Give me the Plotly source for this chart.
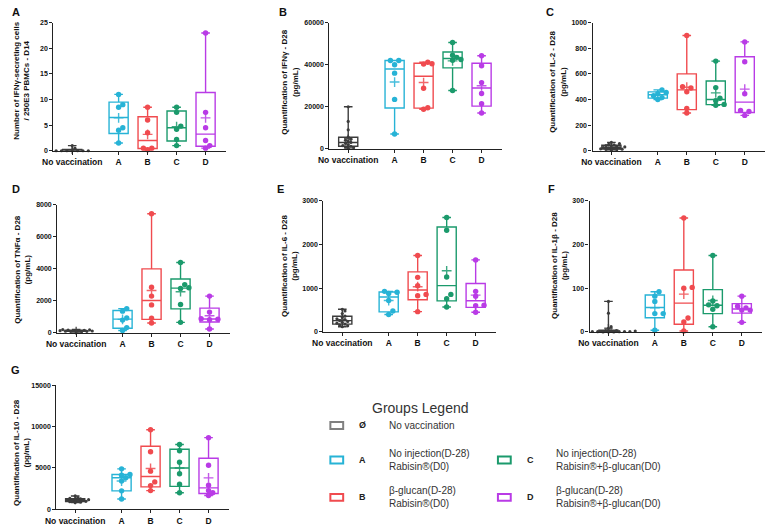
import numpy as np
import plotly.graph_objects as go

# ---------------- data ----------------
groups = ["No vaccination", "A", "B", "C", "D"]
group_pos = [0, 1.6, 2.6, 3.6, 4.6]
group_colors = ["#3c3c3c", "#27b3d6", "#f04b4f", "#1b9a6c", "#b93be6"]
legend_colors = ["#808080", "#27b3d6", "#f04b4f", "#1b9a6c", "#b93be6"]

# A: IFNg-secreting cells / 250E3 PBMCs - D14
ifng_spots_d14 = [
    [0, 0, 0, 0, 0, 0, 0, 0.5, 1],
    [1.5, 4, 4.5, 8.5, 9, 11],
    [0.2, 0.5, 0.5, 3.5, 6, 8.5],
    [1, 2.2, 4.2, 4.8, 7.5, 8.5],
    [0.5, 1, 2, 4.5, 7.5, 23],
]
# B: IFNg D28 (pg/mL)
ifng_d28 = [
    [300, 500, 800, 1200, 1500, 2000, 2500, 3000, 3500, 4000, 4500, 5500, 9000, 13000, 20000],
    [7000, 23500, 36000, 40000, 42000, 42000],
    [18800, 19500, 28800, 40300, 40500, 41200],
    [27700, 42100, 42500, 43500, 44500, 50600],
    [17000, 21400, 26300, 31500, 39500, 44300],
]
# C: IL-2 D28
il2_d28 = [
    [5, 8, 10, 12, 15, 18, 20, 22, 25, 28, 30, 35, 40, 45, 50, 55, 65],
    [400, 415, 430, 445, 455, 475],
    [295, 330, 460, 490, 500, 900],
    [355, 362, 390, 410, 493, 700],
    [276, 306, 315, 445, 695, 850],
]
# D: TNFa D28
tnfa_d28 = [
    [50, 70, 90, 100, 110, 120, 130, 140, 150, 160, 170, 190, 210],
    [150, 334, 800, 930, 1360, 1520],
    [620, 919, 1750, 2300, 2850, 7450],
    [660, 1780, 2780, 2820, 3020, 4400],
    [247, 825, 850, 890, 1300, 2300],
]
# E: IL-6 D28
il6_d28 = [
    [120, 140, 160, 180, 200, 220, 240, 260, 280, 300, 330, 360, 420, 480, 520],
    [400, 480, 720, 880, 910, 930],
    [465, 830, 860, 1060, 1250, 1750],
    [570, 760, 860, 1260, 2330, 2620],
    [450, 600, 610, 820, 930, 1650],
]
# F: IL-1b D28
il1b_d28 = [
    [0, 0, 0, 0.5, 0.5, 1, 1, 1, 1.5, 2, 2, 2.5, 3, 3, 8, 12, 43, 70],
    [4, 42, 42, 70, 82, 92],
    [2, 23, 32, 100, 102, 261],
    [12, 52, 60, 62, 71, 175],
    [22, 50, 50, 55, 59, 82],
]
# G: IL-10 D28
il10_d28 = [
    [800, 850, 900, 950, 1000, 1050, 1100, 1100, 1150, 1200, 1250, 1300, 1400, 1600],
    [1230, 2220, 3400, 3800, 4100, 4200, 4880],
    [2250, 2850, 3300, 4600, 6940, 9600],
    [1980, 3020, 4290, 5670, 7060, 7820],
    [1650, 1980, 2250, 2900, 5320, 8650],
]

y_ticks = {
    "A": [0, 5, 10, 15, 20, 25],
    "B": [0, 20000, 40000, 60000],
    "C": [0, 200, 400, 600, 800, 1000],
    "D": [0, 2000, 4000, 6000, 8000],
    "E": [0, 1000, 2000, 3000],
    "F": [0, 100, 200, 300],
    "G": [0, 5000, 10000, 15000],
}
y_titles = {
    "A": "Number of IFNγ-secreting cells<br>/ 250E3 PBMCs - D14",
    "B": "Quantification of IFNγ - D28<br>(pg/mL)",
    "C": "Quantification of IL-2 - D28<br>(pg/mL)",
    "D": "Quantification of TNFα - D28<br>(pg/mL)",
    "E": "Quantification of IL-6 - D28<br>(pg/mL)",
    "F": "Quantification of IL-1β - D28<br>(pg/mL)",
    "G": "Quantification of IL-10 - D28<br>(pg/mL)",
}
panel_data = {"A": ifng_spots_d14, "B": ifng_d28, "C": il2_d28, "D": tnfa_d28,
              "E": il6_d28, "F": il1b_d28, "G": il10_d28}

# ---------------- layout geometry (pixels) ----------------
W, H = 768, 526
# panel: (axis left px, top px, zero px, title x px, title y px, letter x, letter y)
geom = {
    "A": (43, 19, 149, 11, 78, 5, 8),
    "B": (323, 19, 147, 283, 79, 276, 8),
    "C": (590, 19, 149, 555, 79, 547, 8),
    "D": (47, 204, 334, 12, 269, 5, 188),
    "E": (317, 200, 333, 283, 266, 273, 188),
    "F": (587, 200, 333, 557, 266, 548, 188),
    "G": (46, 387, 513, 10, 455, 5, 372),
}
PLOT_W = 175
XR = [-0.65, 5.3]
PX_PER_X = PLOT_W / (XR[1] - XR[0])
FONT = "Liberation Sans, Arial, sans-serif"


def swarm_offsets(vals, ymax, hpx, diam):
    ys = np.asarray(vals, float) / ymax * hpx
    order = np.argsort(ys, kind="stable")
    placed = []
    offs = np.zeros(len(ys))
    step = diam * 0.85
    for i in order:
        found = None
        for k in range(0, 30):
            for c in ([0] if k == 0 else [k, -k]):
                xx = c * step
                if all((xx - px) ** 2 + (ys[i] - py) ** 2 >= (diam * 0.9) ** 2 for px, py in placed):
                    found = xx
                    break
            if found is not None:
                break
        placed.append((found, ys[i]))
        offs[i] = found
    return offs / PX_PER_X


fig = go.Figure()
annotations = []
layout_axes = {}

for idx, (key, data) in enumerate(panel_data.items()):
    n = idx + 1
    xa = "x" if n == 1 else f"x{n}"
    ya = "y" if n == 1 else f"y{n}"
    left, top, zero, tx, ty, lx, ly = geom[key]
    ymax = y_ticks[key][-1]
    hpx = zero - top
    for gi, vals in enumerate(data):
        v = np.asarray(vals, float)
        q1, med, q3 = np.percentile(v, [25, 50, 75], method="weibull")
        col = group_colors[gi]
        pos = group_pos[gi]
        fig.add_trace(go.Box(
            x=[pos], q1=[q1], median=[med], q3=[q3],
            lowerfence=[v.min()], upperfence=[v.max()],
            width=0.66, whiskerwidth=0.45,
            line=dict(color=col, width=1.4),
            fillcolor="rgba(255,255,255,0)",
            boxpoints=False, hoverinfo="skip",
            xaxis=xa, yaxis=ya,
        ))
        diam = 3.2 if gi == 0 else 5.0
        offs = swarm_offsets(v, ymax, hpx, diam)
        fig.add_trace(go.Scatter(
            x=pos + offs, y=v, mode="markers",
            marker=dict(color=col, size=diam + (0 if gi == 0 else 0.4), line=dict(width=0)),
            cliponaxis=False, hoverinfo="skip", xaxis=xa, yaxis=ya,
        ))
        fig.add_trace(go.Scatter(
            x=[pos], y=[v.mean()], mode="markers",
            marker=dict(symbol="cross-thin", size=6 if gi == 0 else 7,
                        line=dict(color=col, width=1.4)),
            opacity=0.85,
            cliponaxis=False, hoverinfo="skip", xaxis=xa, yaxis=ya,
        ))

    xname = "xaxis" if n == 1 else f"xaxis{n}"
    yname = "yaxis" if n == 1 else f"yaxis{n}"
    layout_axes[xname] = dict(
        domain=[left / W, (left + PLOT_W) / W], range=XR, anchor=ya,
        tickmode="array", tickvals=group_pos, ticktext=groups,
        ticks="outside", ticklen=3, tickwidth=1.2, tickcolor="#222",
        showline=True, linecolor="#222", linewidth=1.3,
        showgrid=False, zeroline=False,
        tickfont=dict(family=FONT, size=8.5, color="#111", weight="bold"),
    )
    layout_axes[yname] = dict(
        domain=[1 - zero / H, 1 - top / H], range=[0, ymax], anchor=xa,
        tickmode="array", tickvals=y_ticks[key], ticktext=[str(t) for t in y_ticks[key]],
        ticks="outside", ticklen=3, tickwidth=1.2, tickcolor="#222",
        showline=True, linecolor="#222", linewidth=1.3,
        showgrid=False, zeroline=False,
        tickfont=dict(family=FONT, size=7, color="#111", weight="bold"),
    )
    annotations.append(dict(
        x=tx / W, y=1 - ty / H, xref="paper", yref="paper", text=y_titles[key],
        textangle=-90, showarrow=False, xanchor="center", yanchor="middle",
        font=dict(family=FONT, size=8, color="#111", weight="bold"), align="center",
    ))
    annotations.append(dict(
        x=lx / W, y=1 - ly / H, xref="paper", yref="paper", text=key,
        showarrow=False, xanchor="center", yanchor="middle",
        font=dict(family=FONT, size=11, color="#111", weight="bold"),
    ))

# ---------------- groups legend ----------------
legend_letters = ["Ø", "A", "B", "C", "D"]
legend_texts = [
    "No vaccination",
    "No injection(D-28)<br>Rabisin®(D0)",
    "β-glucan(D-28)<br>Rabisin®(D0)",
    "No injection(D-28)<br>Rabisin®+β-glucan(D0)",
    "β-glucan(D-28)<br>Rabisin®+β-glucan(D0)",
]
# (icon x px, row y px)
legend_slots = [(324, 428), (324, 463), (324, 501), (494, 463), (494, 501)]
shapes = []
for i, (ix, iy) in enumerate(legend_slots):
    shapes.append(dict(
        type="rect", xref="paper", yref="paper",
        x0=ix / W, x1=(ix + 13) / W, y0=1 - (iy + 3.5) / H, y1=1 - (iy - 3.5) / H,
        line=dict(color=legend_colors[i], width=2), fillcolor="white",
    ))
    annotations.append(dict(
        x=(ix + 33) / W, y=1 - iy / H, xref="paper", yref="paper", text=legend_letters[i],
        showarrow=False, xanchor="center", yanchor="middle",
        font=dict(family=FONT, size=9, color="#222", weight="bold"),
    ))
    annotations.append(dict(
        x=(ix + 57) / W, y=1 - iy / H, xref="paper", yref="paper", text=legend_texts[i],
        showarrow=False, xanchor="left", yanchor="middle", align="left",
        font=dict(family=FONT, size=10, color="#333"),
    ))
annotations.append(dict(
    x=364 / W, y=1 - 410 / H, xref="paper", yref="paper", text="Groups Legend",
    showarrow=False, xanchor="left", yanchor="middle",
    font=dict(family=FONT, size=14, color="#333"),
))

fig.update_layout(
    width=W, height=H, margin=dict(l=0, r=0, t=0, b=0),
    paper_bgcolor="white", plot_bgcolor="white",
    showlegend=False, boxmode="overlay",
    annotations=annotations, shapes=shapes,
    **layout_axes,
)

fig.write_html("out.html", config={"displayModeBar": False},
               post_script="document.body.style.margin='0';document.body.style.overflow='hidden';")
